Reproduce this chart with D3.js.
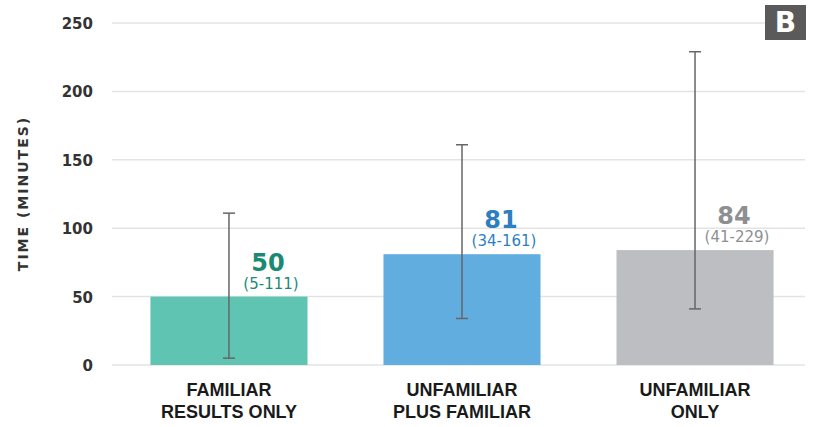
<!DOCTYPE html>
<html>
<head>
<meta charset="utf-8">
<script src="https://cdn.jsdelivr.net/npm/d3@7"></script>
<style>
  html, body { margin: 0; padding: 0; background: #fff; }
  svg { display: block; }
</style>
</head>
<body>
<svg id="chart" width="817" height="427"></svg>
<script>
// ---- data ----
const categories = [
  ["FAMILIAR", "RESULTS ONLY"],
  ["UNFAMILIAR", "PLUS FAMILIAR"],
  ["UNFAMILIAR", "ONLY"]
];
const medians = [50, 81, 84];
const lows = [5, 34, 41];
const highs = [111, 161, 229];
const yTicks = [0, 50, 100, 150, 200, 250];
const barColors = ["#5fc4b1", "#62ade0", "#bdbec2"];
const labelColors = ["#1b8a75", "#2e7fc1", "#8e8f93"];
const yTitle = "TIME (MINUTES)";
const panelLetter = "B";

// ---- layout ----
const svg = d3.select("#chart");
const x = d3.scaleBand()
  .domain(d3.range(categories.length))
  .range([112, 812])
  .paddingInner(0.326)
  .paddingOuter(0.165);
const y = d3.scaleLinear().domain([0, 250]).range([365, 23]);

// grid lines
const grid = svg.append("g");
grid.selectAll("line").data(yTicks).join("line")
  .attr("x1", 112).attr("x2", 805)
  .attr("y1", d => y(d)).attr("y2", d => y(d))
  .attr("stroke", "#e3e3e3").attr("stroke-width", 1.5);

// y axis labels
const yAxis = d3.axisLeft(y).tickValues(yTicks).tickSize(0).tickPadding(0);
const yg = svg.append("g").attr("transform", "translate(93,0)").call(yAxis);
yg.select(".domain").remove();
yg.selectAll("text")
  .attr("font-family", "DejaVu Sans")
  .attr("font-weight", "bold")
  .attr("font-size", 15)
  .attr("fill", "#333")
  .attr("dy", "0.36em");

// y title
svg.append("text")
  .attr("transform", "translate(28,193.5) rotate(-90)")
  .attr("text-anchor", "middle")
  .attr("font-family", "DejaVu Sans")
  .attr("font-weight", "bold")
  .attr("font-size", 14)
  .attr("letter-spacing", 2)
  .attr("fill", "#333")
  .text(yTitle);

// bars
svg.append("g").selectAll("rect").data(medians).join("rect")
  .attr("x", (d, i) => x(i))
  .attr("width", x.bandwidth())
  .attr("y", d => y(d))
  .attr("height", d => y(0) - y(d))
  .attr("fill", (d, i) => barColors[i]);

// error bars
const eb = svg.append("g").attr("stroke", "#666").attr("stroke-width", 1.5);
medians.forEach((m, i) => {
  const cx = x(i) + x.bandwidth() / 2;
  eb.append("line").attr("x1", cx).attr("x2", cx).attr("y1", y(lows[i])).attr("y2", y(highs[i]));
  eb.append("line").attr("x1", cx - 6).attr("x2", cx + 6).attr("y1", y(lows[i])).attr("y2", y(lows[i]));
  eb.append("line").attr("x1", cx - 6).attr("x2", cx + 6).attr("y1", y(highs[i])).attr("y2", y(highs[i]));
});

// value labels
medians.forEach((m, i) => {
  const cx = x(i) + x.bandwidth() / 2;
  svg.append("text")
    .attr("x", cx + 39).attr("y", y(m) - 26)
    .attr("text-anchor", "middle")
    .attr("font-family", "DejaVu Sans").attr("font-weight", "bold")
    .attr("font-size", 24).attr("fill", labelColors[i])
    .text(m);
  svg.append("text")
    .attr("x", cx + 42).attr("y", y(m) - 8)
    .attr("text-anchor", "middle")
    .attr("font-family", "DejaVu Sans")
    .attr("font-size", 15).attr("fill", labelColors[i])
    .text("(" + lows[i] + "-" + highs[i] + ")");
});

// x labels
categories.forEach((lines, i) => {
  const cx = x(i) + x.bandwidth() / 2;
  const t = svg.append("text")
    .attr("text-anchor", "middle")
    .attr("font-family", "'Liberation Sans Narrow', 'Arial Narrow', sans-serif")
    .attr("font-weight", "bold")
    .attr("font-size", 18)
    .attr("fill", "#1a1a1a");
  lines.forEach((ln, j) => {
    t.append("tspan").attr("x", cx).attr("y", 396 + j * 22).text(ln);
  });
});

// panel letter box
svg.append("rect")
  .attr("x", 765).attr("y", 5).attr("width", 41).attr("height", 35)
  .attr("fill", "#5a5a5a");
svg.append("text")
  .attr("x", 785.5).attr("y", 32)
  .attr("text-anchor", "middle")
  .attr("font-family", "DejaVu Sans").attr("font-weight", "bold")
  .attr("font-size", 28).attr("fill", "#fff")
  .text(panelLetter);
</script>
</body>
</html>
